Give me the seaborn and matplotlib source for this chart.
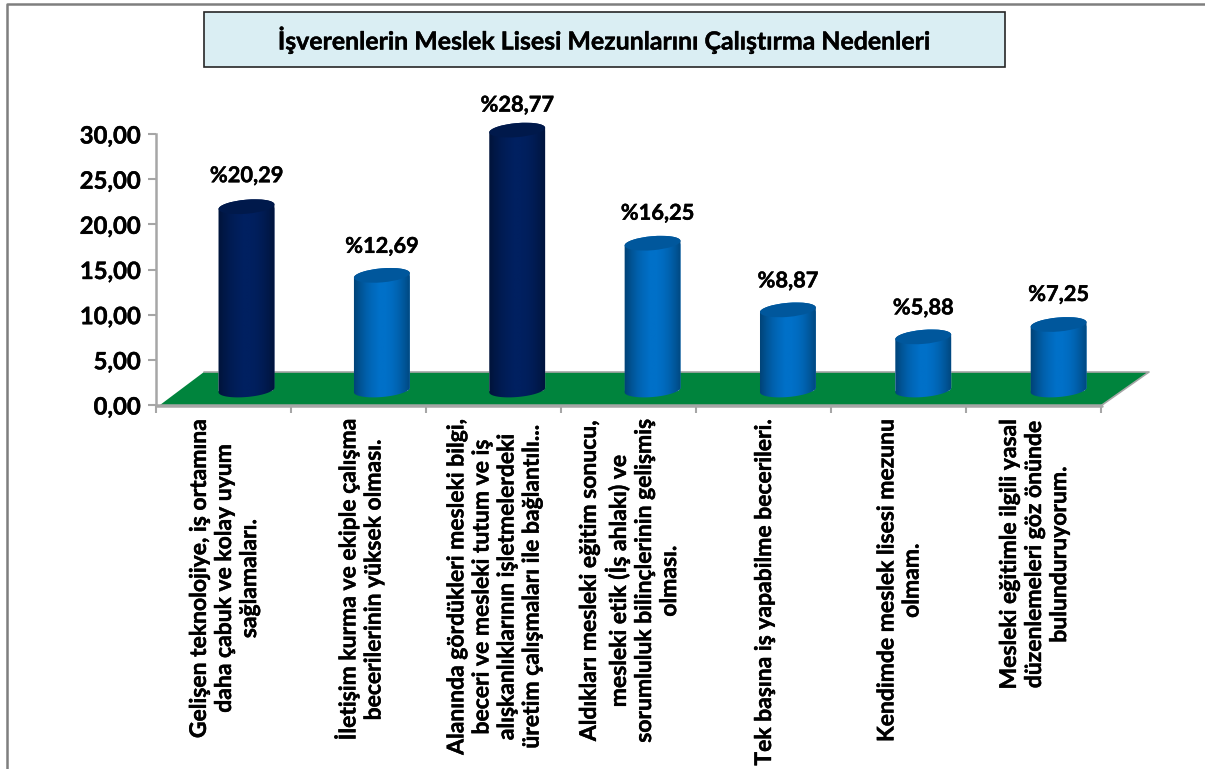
import numpy as np
import pandas as pd
import matplotlib
matplotlib.use("Agg")
import matplotlib.pyplot as plt
import matplotlib.patheffects as pe
from matplotlib.patches import Polygon, Rectangle, Ellipse
from matplotlib.path import Path
from matplotlib.lines import Line2D
from matplotlib.transforms import Affine2D, IdentityTransform
import seaborn as sns

sns.set_theme(style="white")
plt.rcParams["font.family"] = ["Lato", "DejaVu Sans"]
plt.rcParams["font.weight"] = "bold"

# ── Data ─────────────────────────────────────────────────────────────────────
TITLE = "İşverenlerin Meslek Lisesi Mezunlarını Çalıştırma Nedenleri"
categories = [
    "Gelişen teknolojiye, iş ortamına\ndaha çabuk ve kolay uyum\nsağlamaları.",
    "İletişim kurma ve ekiple çalışma\nbecerilerinin yüksek olması.",
    "Alanında gördükleri mesleki bilgi,\nbeceri ve mesleki tutum ve iş\nalışkanlıklarının işletmelerdeki\nüretim çalışmaları ile bağlantılı...",
    "Aldıkları mesleki eğitim sonucu,\nmesleki etik (İş ahlakı) ve\nsorumluluk bilinçlerinin gelişmiş\nolması.",
    "Tek başına iş yapabilme becerileri.",
    "Kendimde meslek lisesi mezunu\nolmam.",
    "Mesleki eğitimle ilgili yasal\ndüzenlemeleri göz önünde\nbulunduruyorum.",
]
values = [20.29, 12.69, 28.77, 16.25, 8.87, 5.88, 7.25]
value_labels = ["%20,29", "%12,69", "%28,77", "%16,25", "%8,87", "%5,88", "%7,25"]
y_ticks = [0, 5, 10, 15, 20, 25, 30]
y_tick_labels = ["0,00", "5,00", "10,00", "15,00", "20,00", "25,00", "30,00"]
bar_colors = ["#002060", "#0070C8", "#002060", "#0070C8", "#0070C8", "#0070C8", "#0070C8"]
label_gaps = [31, 29, 25, 30, 29, 29, 30]
label_dx = [0, 0, 0, 5, 0, 0, 0]

W, H = 1205, 769
GREY = "#A6A6A6"
HEAVY = [pe.withStroke(linewidth=0.3, foreground="black")]


def py(y):
    # picture row (from top) to display row (from bottom)
    return H - y


# ── Figure ───────────────────────────────────────────────────────────────────
fig = plt.figure(figsize=(W / 100, H / 100), dpi=100, facecolor="white")
ax = fig.add_axes([156 / W, py(405) / H, 945 / W, 271 / H])

df = pd.DataFrame({"category": categories, "value": values})
sns.barplot(data=df, x="category", y="value", hue="category", palette=bar_colors,
            width=0.415, legend=False, saturation=1, ax=ax, zorder=3)
ax.set_xlim(-0.5, 6.5)
ax.set_ylim(0, 30)
ax.set_xlabel("")
ax.set_ylabel("")

# axes
for side in ["top", "right"]:
    ax.spines[side].set_visible(False)
for side in ["left", "bottom"]:
    ax.spines[side].set_color(GREY)
    ax.spines[side].set_linewidth(1.8)
ax.set_yticks(y_ticks)
ax.set_yticklabels(y_tick_labels, fontsize=17.2, fontweight="bold", color="black",
                   path_effects=HEAVY)
ax.tick_params(axis="y", length=6, width=1.5, color=GREY, left=True, pad=5)
ax.set_xticks(range(len(categories)))
ax.set_xticklabels([])
ax.tick_params(axis="x", which="major", length=0)
ax.set_xticks(np.arange(-0.5, 7, 1), minor=True)
ax.tick_params(axis="x", which="minor", length=6, width=1.5, color=GREY, bottom=True)

# green floor
identity = IdentityTransform()
floor = Polygon([(160, py(405)), (204, py(372)), (1149, py(372)), (1102, py(405))],
                closed=True, facecolor="#00843D", edgecolor="none",
                transform=identity, clip_on=False, zorder=1)
ax.add_patch(floor)
ax.add_line(Line2D([204, 1149, 1102], [py(372), py(372), py(405)], color=GREY, lw=1.2,
                   transform=identity, clip_on=False, zorder=1.5))
ax.add_line(Line2D([156, 1102], [py(405.5), py(405.5)], color=GREY, lw=1.8,
                   transform=identity, clip_on=False, zorder=2))

# cylinders built on seaborn's bars
DX, DY = 23, 15
DX_STEP = 0.35
RY = 7.0
TILT = np.deg2rad(5)
fig.canvas.draw()


def ellipse_pts(cx, cy, rx, start, stop):
    a = np.linspace(start, stop, 40)
    ex, ey = rx * np.cos(a), RY * np.sin(a)
    return np.column_stack([cx + ex * np.cos(TILT) - ey * np.sin(TILT),
                            cy + ex * np.sin(TILT) + ey * np.cos(TILT)])


bars = [b for b in ax.patches if isinstance(b, Rectangle) and b.get_height() > 0]
for i, (bar, val, label, base) in enumerate(zip(bars, values, value_labels, bar_colors)):
    dx = DX + i * DX_STEP
    shift = ax.transData + Affine2D().translate(dx, DY)
    x0, y0 = ax.transData.transform((bar.get_x(), 0))
    x1, y1 = ax.transData.transform((bar.get_x() + bar.get_width(), val))
    x0, x1, y0, y1 = x0 + dx, x1 + dx, y0 + DY, y1 + DY
    cx, rx = (x0 + x1) / 2, (x1 - x0) / 2

    # silhouette: bottom half of the base ellipse + top half of the top ellipse
    outline = np.vstack([ellipse_pts(cx, y0, rx, np.pi, 2 * np.pi),
                         ellipse_pts(cx, y1, rx, 0, np.pi)])
    clip = Path(np.vstack([outline, outline[:1]]), closed=True)
    bar.set_transform(shift)
    bar.set_clip_path(clip, identity)
    bar.set_clip_box(fig.bbox)
    rgb = np.array(matplotlib.colors.to_rgb(base))

    # horizontal shading
    shade = np.array([0.6, 0.74, 0.86, 0.94, 1.0, 1.0, 0.96, 0.88, 0.76, 0.62])
    img = (shade[:, None] * rgb)[None, :, :]
    im = ax.imshow(img, extent=(x0 - 3, x1 + 3, y0 - 12, y1 + 12), transform=identity,
                   aspect="auto", interpolation="bilinear", zorder=4)
    im.set_clip_box(fig.bbox)
    im.set_clip_path(clip, identity)

    # lid
    top = Ellipse((cx, y1), 2 * rx, 2 * RY, angle=5, facecolor=rgb * 0.78, edgecolor="none",
                  transform=identity, clip_on=False, zorder=5)
    ax.add_patch(top)

    ax.text(cx + label_dx[i], y1 + label_gaps[i], label, fontsize=15.7, fontweight="bold",
            color="black", ha="center", va="center", transform=identity, clip_on=False,
            zorder=6, path_effects=HEAVY)

ax.set_xlim(-0.5, 6.5)
ax.set_ylim(0, 30)

# rotated category labels
for i, cat in enumerate(categories):
    x_px = ax.transData.transform((i, 0))[0] + 1
    fig.text(x_px / W, py(420) / H, cat, rotation=90, ha="center", va="top",
             multialignment="center", fontsize=16.5, fontweight="bold",
             color="black", linespacing=1.24, path_effects=HEAVY)

# title box and outer frame
fig.add_artist(Rectangle((204 / W, py(67) / H), 801 / W, 55 / H, transform=fig.transFigure,
                         facecolor="#DAEEF3", edgecolor="#262626", lw=1.2))
fig.text(604 / W, py(40) / H, TITLE, ha="center", va="center", fontsize=17.9,
         fontweight="bold", color="black", path_effects=HEAVY)
fig.add_artist(Line2D([7 / W, 7 / W, 1], [0, py(3.5) / H, py(3.5) / H], color="#7F7F7F",
                      lw=1.8, transform=fig.transFigure))

fig.savefig("out.png", dpi=100)
plt.close(fig)
